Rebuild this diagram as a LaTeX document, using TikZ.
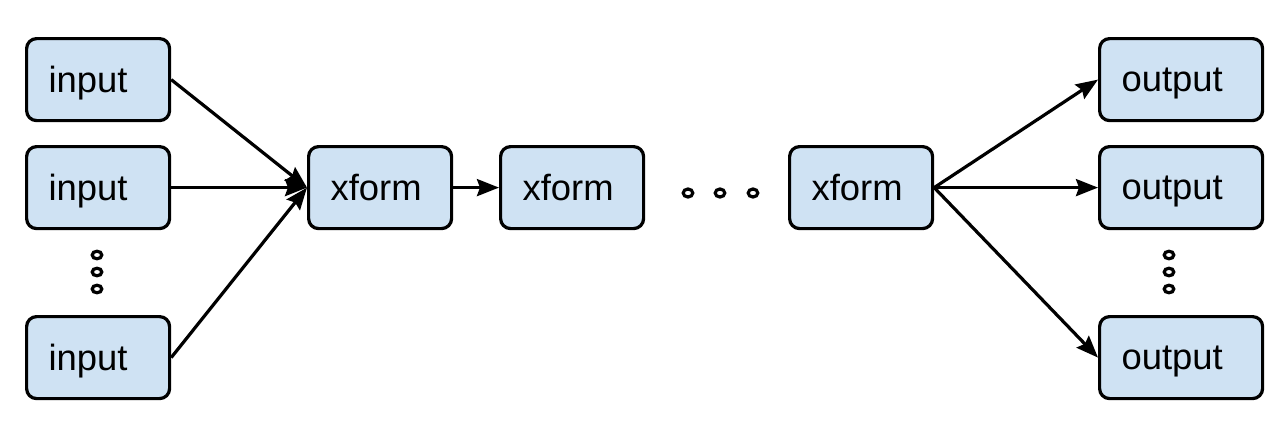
\documentclass[tikz,border=0pt]{standalone}
\usepackage{fontspec}
\setmainfont{Liberation Sans}
\usetikzlibrary{arrows.meta}
\definecolor{boxfill}{HTML}{CFE2F3}
\begin{document}
\begin{tikzpicture}[x=0.5pt,y=-0.5pt,
  box/.style={draw=black, fill=boxfill, line width=1.6pt, rounded corners=5pt,
    minimum height=41pt, inner xsep=11pt, inner ysep=0pt, align=left,
    text depth=0pt, font=\fontsize{18.2}{22}\selectfont, anchor=north west},
  smallbox/.style={box, text width=49.5pt},
  widebox/.style={box, text width=59.5pt},
  conn/.style={line width=1.6pt, -{Stealth[length=11pt,width=8.5pt,inset=1.5pt]}},
  dots/.style={line width=1.6pt}]
\fill[white] (0,0) rectangle (1286,428);
\useasboundingbox (0,0) rectangle (1286,428);

\node[smallbox] (in1) at (25,37) {input};
\node[smallbox] (in2) at (25,145) {input};
\node[smallbox] (in3) at (25,315) {input};

\node[smallbox] (x1) at (307,145) {xform};
\node[smallbox] (x2) at (499,145) {xform};
\node[smallbox] (x3) at (788,145) {xform};

\node[widebox] (out1) at (1098,37) {output};
\node[widebox] (out2) at (1098,145) {output};
\node[widebox] (out3) at (1098,315) {output};

\foreach \y in {255,272,289} {
  \draw[dots] (97,\y) ellipse [x radius=2.4pt, y radius=1.9pt];
  \draw[dots] (1169,\y) ellipse [x radius=2.4pt, y radius=1.9pt];
}
\foreach \x in {688,720,753} {
  \draw[dots] (\x,193) ellipse [x radius=2.4pt, y radius=2pt];
}

\draw[conn] (in1.east) -- (x1.west);
\draw[conn] (in2.east) -- (x1.west);
\draw[conn] (in3.east) -- (x1.west);
\draw[conn] (x1.east) -- (x2.west);
\draw[conn] (x3.east) -- (out1.west);
\draw[conn] (x3.east) -- (out2.west);
\draw[conn] (x3.east) -- (out3.west);
\end{tikzpicture}
\end{document}
